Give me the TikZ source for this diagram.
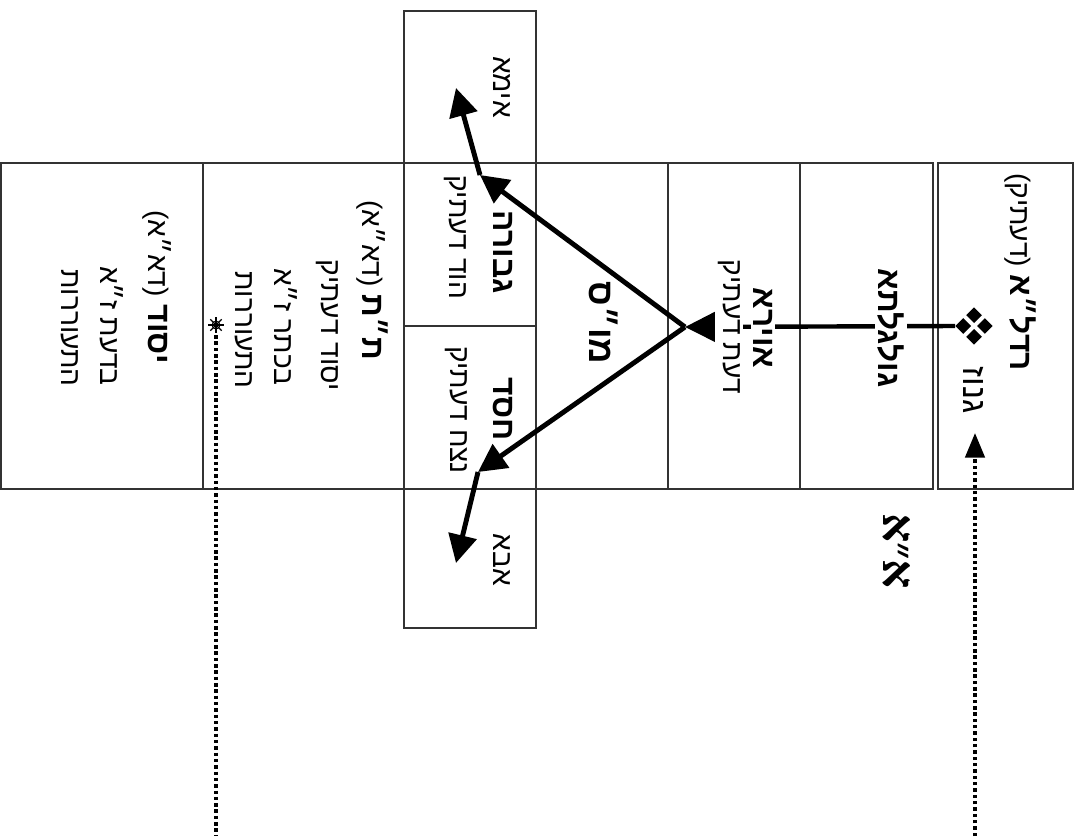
\documentclass[tikz,border=0pt]{standalone}
\usepackage{fontspec}
\setmainfont{Liberation Sans}
\newfontfamily\heb[Script=Hebrew]{Liberation Sans}
\newfontfamily\hebserif[Script=Hebrew]{Liberation Serif}
\TeXXeTstate=1
\usetikzlibrary{arrows.meta}
\definecolor{boxgray}{RGB}{51,51,51}
\newcommand{\bld}[1]{{\bfseries\fontsize{18}{20}\selectfont #1}}

\begin{document}
\begin{tikzpicture}[x=0.02cm,y=-0.02cm,
  cell/.style={draw=boxgray,line width=1.1pt,inner sep=0pt},
  txt/.style={rotate=-90,fill=white,inner sep=1.5pt,font=\heb\fontsize{16}{18}\selectfont},
  ttl/.style={txt,font=\heb\bfseries\fontsize{18}{20}\selectfont},
  flow/.style={line width=2.8pt,-{Triangle[length=16pt,width=16pt]}},
  hint/.style={line width=2pt,dash pattern=on 2pt off 1.6pt}]
\useasboundingbox (0,0) rectangle (1082,836);

% boxes
\node[cell,minimum width=4.04cm,minimum height=6.52cm] (yesod) at (102,326) {};
\node[cell,minimum width=4.02cm,minimum height=6.52cm] (tt) at (303.5,326) {};
\node[cell,minimum width=2.64cm,minimum height=3.04cm] (ima) at (470,87) {};
\node[cell,minimum width=2.64cm,minimum height=3.26cm] (gev) at (470,244.5) {};
\node[cell,minimum width=2.64cm,minimum height=3.26cm] (ches) at (470,407.5) {};
\node[cell,minimum width=2.64cm,minimum height=2.78cm] (aba) at (470,558.5) {};
\node[cell,minimum width=2.64cm,minimum height=6.52cm] (mos) at (602,326) {};
\node[cell,minimum width=2.64cm,minimum height=6.52cm] (avira) at (734,326) {};
\node[cell,minimum width=2.66cm,minimum height=6.52cm] (gulg) at (866.5,326) {};
\node[cell,minimum width=2.70cm,minimum height=6.52cm] (radla) at (1005.5,326) {};

\coordinate (gemW) at (955,326);
\coordinate (hub) at (685,327);
\path[line width=2.5pt,-{Triangle[length=17pt,width=16.5pt]}] (gemW) edge (hub);

% texts
\node[txt] (radlaT) at (1020,272) {\beginR\bld{רדל״א} (דעתיק)\endR};
\node[txt,font=\heb\fontsize{19}{21}\selectfont] (gnuz) at (974,390) {\beginR גנוז\endR};
\node[ttl] (gulgT) at (891,328) {\beginR גולגלתא\endR};
\node[ttl] (aviraT) at (763,328) {\beginR אוירא\endR};
\node[txt] (aviraS) at (729,327) {\beginR דעת דעתיק\endR};
\node[ttl,font=\heb\bfseries\fontsize{20}{22}\selectfont] (mosT) at (604,323) {\beginR מו״ס\endR};
\node[txt] (imaT) at (502,87) {\beginR אימא\endR};
\node[ttl] (gevT) at (503,252) {\beginR גבורה\endR};
\node[txt] (gevS) at (455,237) {\beginR הוד דעתיק\endR};
\node[ttl] (chesT) at (503,409) {\beginR חסד\endR};
\node[txt] (chesS) at (456,410) {\beginR נצח דעתיק\endR};
\node[txt] (abaT) at (502,560) {\beginR אבא\endR};
\node[txt] (ttT) at (372,280) {\beginR\bld{ת״ת} (דא״א)\endR};
\node[txt] (ttA) at (327,325) {\beginR יסוד דעתיק\endR};
\node[txt] (ttB) at (286,327) {\beginR בכתר ז״א\endR};
\node[txt] (ttC) at (244,330) {\beginR התעוררות\endR};
\node[txt] (yesT) at (157,287) {\beginR\bld{יסוד} (דא״א)\endR};
\node[txt] (yesA) at (112,326) {\beginR בדעת ז״א\endR};
\node[txt] (yesB) at (70,328) {\beginR התעוררות\endR};
\node[rotate=-90,font=\hebserif\bfseries\fontsize{26}{28}\selectfont] (aa) at (897,551) {\beginR א״א\endR};

% gem
\node[inner sep=0pt,minimum size=0.76cm] (gem) at (974,326) {};
\foreach \a in {0,90,180,270}
  \fill[shift={(gem.center)},rotate=\a] (3,0) -- (10.8,7.8) -- (18.6,0) -- (10.8,-7.8) -- cycle;

% star
\node[inner sep=0pt,minimum size=0.32cm] (star) at (216,325) {};
\draw[line width=0.5pt] (star.center) circle[radius=4];
\foreach \a in {0,45,...,315}
  \draw[line width=0.7pt] (star.center) -- ++(\a:8);

% arrows
\coordinate (gevM) at (480,175);
\coordinate (imaP) at (456,88);
\coordinate (chesM) at (478,472);
\coordinate (abaP) at (456,563);
\path[flow] (hub) edge (gevM)
            (gevM) edge (imaP)
            (hub) edge (chesM)
            (chesM) edge (abaP);

\coordinate (radlaFoot) at (975,836);
\coordinate (gnuzP) at (975,433);
\coordinate (ttFoot) at (216,836);
\path[hint,-{Triangle[length=14pt,width=11pt]}] (radlaFoot) edge (gnuzP);
\path[hint] (star) edge[shorten <=1pt] (ttFoot);
\end{tikzpicture}
\end{document}
